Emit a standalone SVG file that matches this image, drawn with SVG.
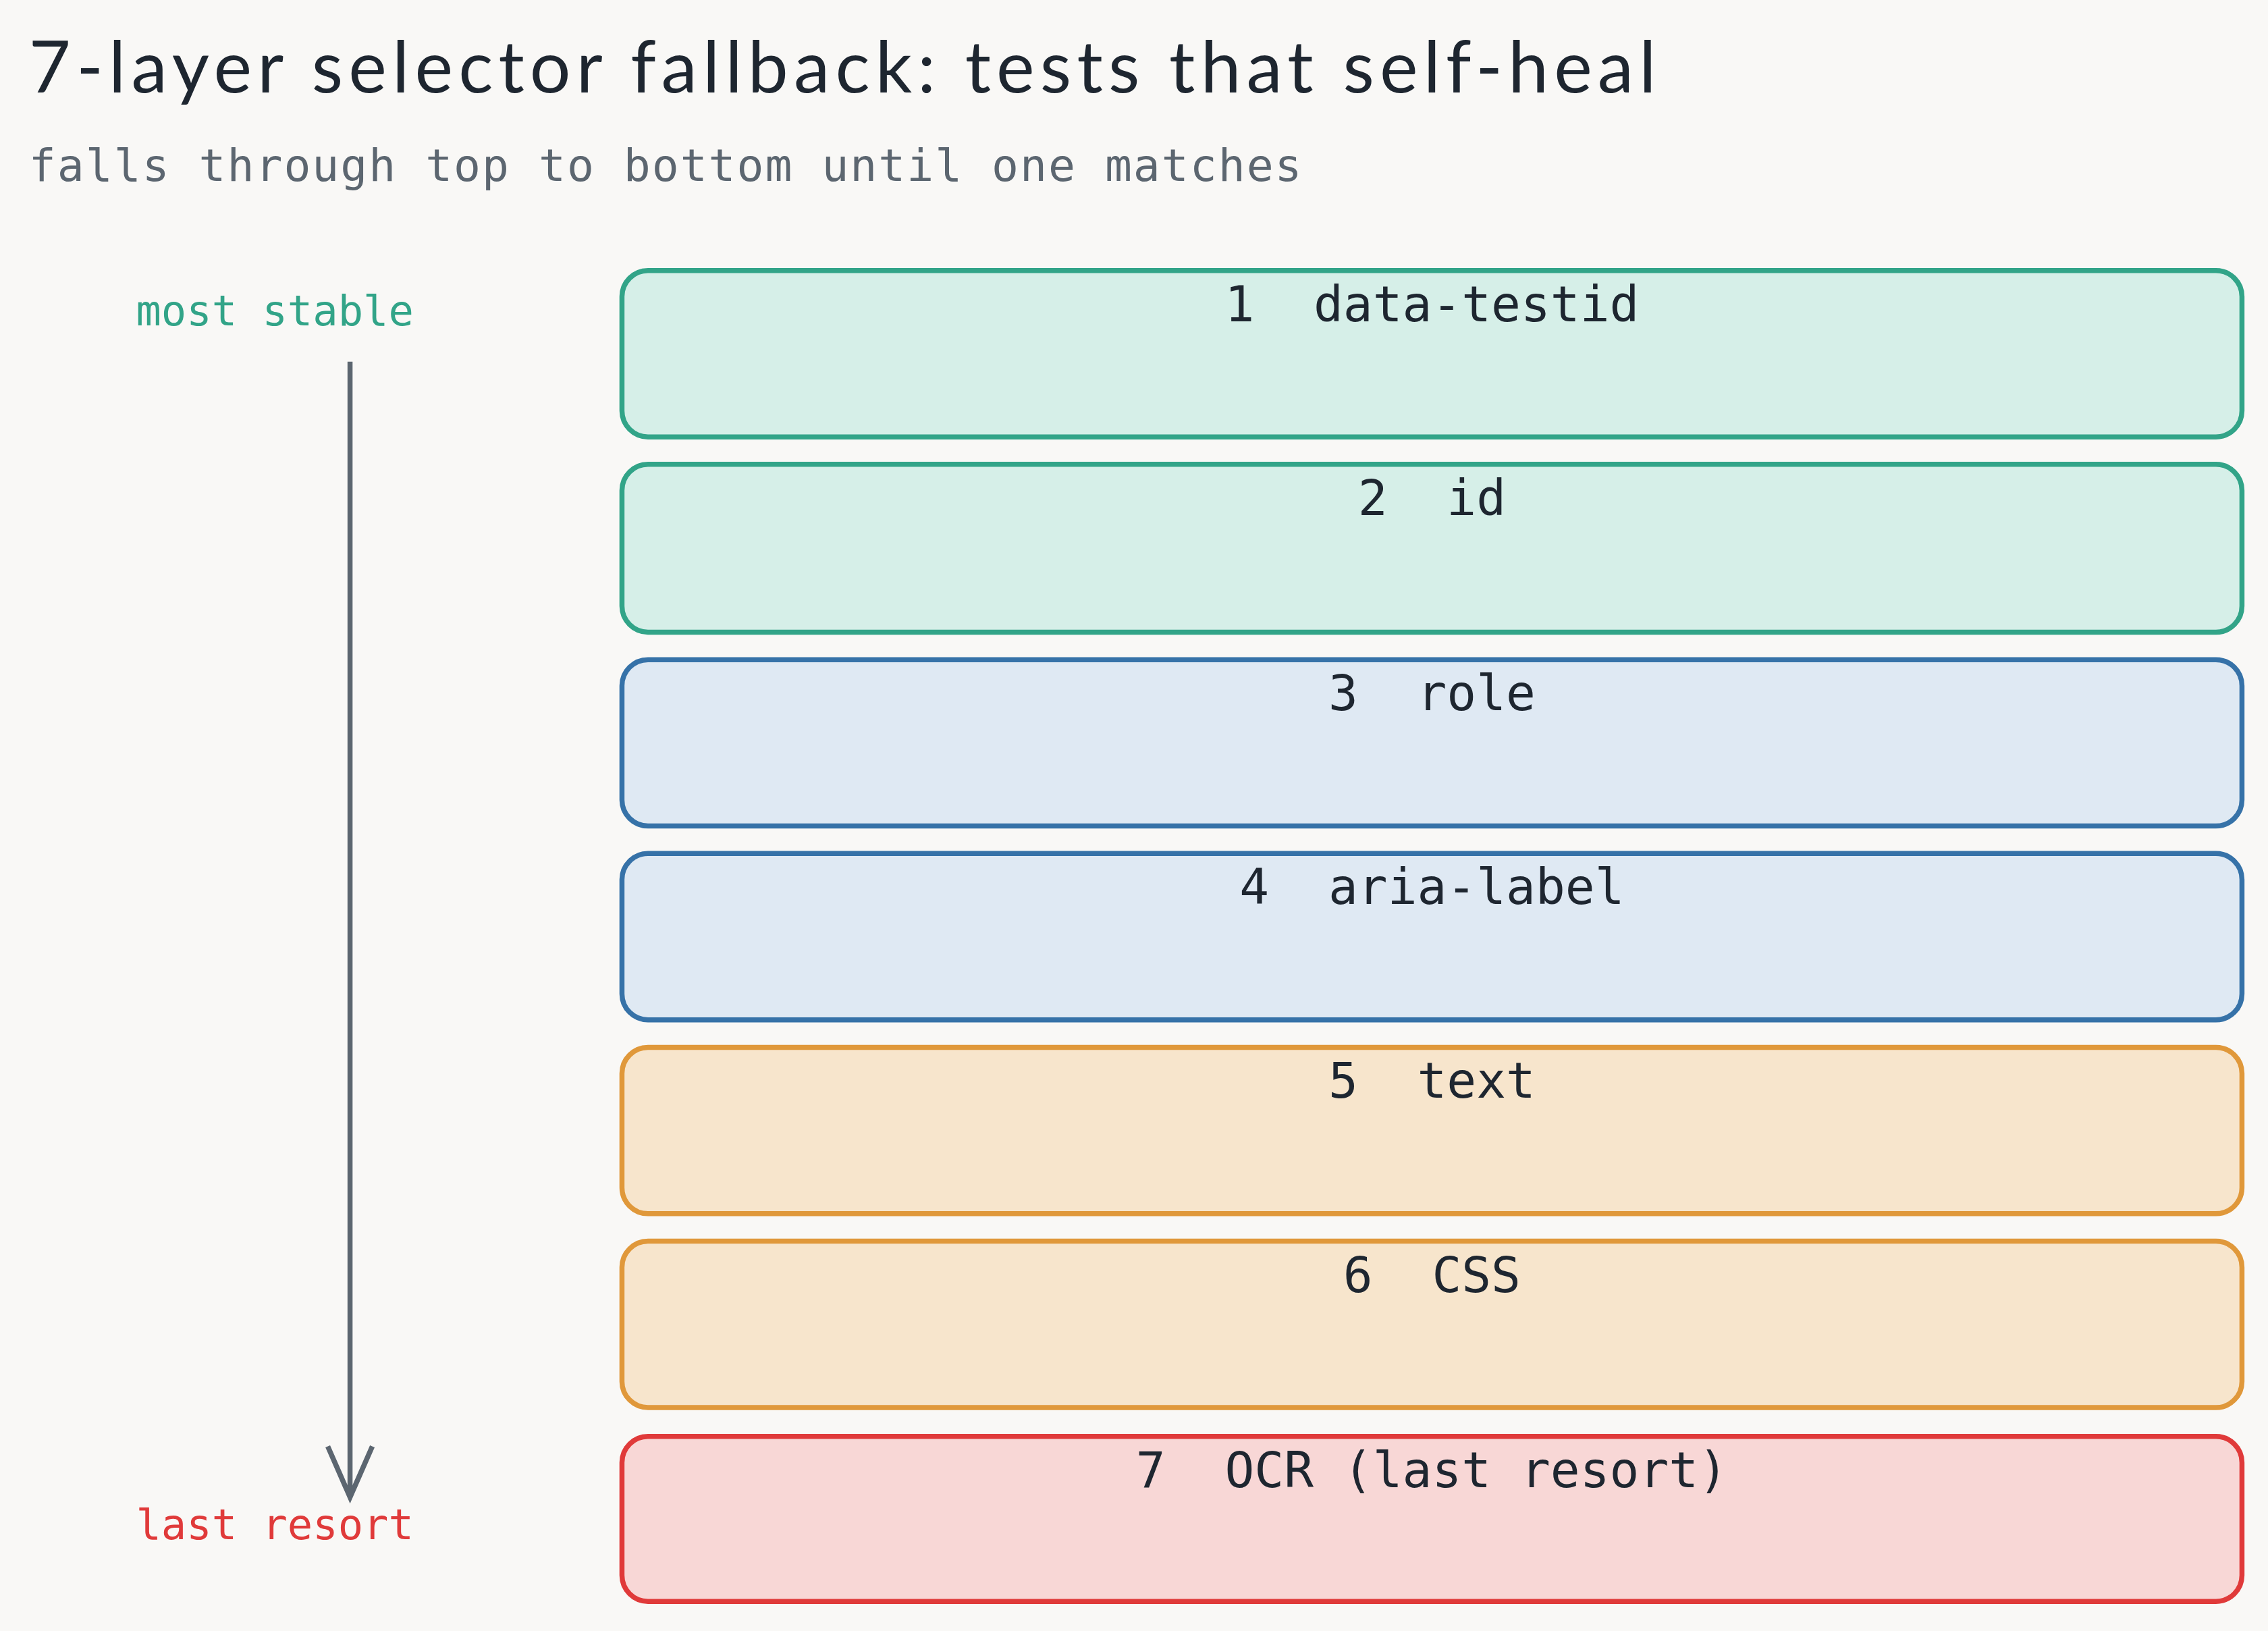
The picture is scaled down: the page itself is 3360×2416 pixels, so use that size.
<svg xmlns="http://www.w3.org/2000/svg" width="3360" height="2416" viewBox="0 0 3360 2416">
<style>
text{white-space:pre}
.box{stroke-width:3.5}
.lbl{font-family:"DejaVu Sans Mono","Liberation Mono",monospace;font-size:34px;fill:#1e2630;text-anchor:middle}
.g{fill:#d6efe8;stroke:#32a488}
.b{fill:#dfe9f3;stroke:#3672a8}
.o{fill:#f7e5cc;stroke:#e0983a}
.r{fill:#f8d7d6;stroke:#e03a3a}
.side{font-family:"DejaVu Sans Mono","Liberation Mono",monospace;font-size:29px;text-anchor:middle}
</style>
<defs><marker id="ah" viewBox="0 0 20 20" refX="18" refY="10" markerWidth="44" markerHeight="44" markerUnits="userSpaceOnUse" orient="auto"><path d="M2 3 L18 10 L2 17" fill="none" stroke="#5c6670" stroke-width="1.6"/></marker></defs>
<rect width="3360" height="2416" fill="#f9f8f6"/>
<g transform="scale(2.142857)">
<text x="20" y="64" font-family="Lato, sans-serif" font-size="50" fill="#1e2630" textLength="1125">7-layer selector fallback: tests that self-heal</text>
<text x="20" y="125" font-family="DejaVu Sans Mono, monospace" font-size="31" fill="#5c6670" textLength="880">falls through top to bottom until one matches</text>
<g id="connectors"><line x1="242" y1="250" x2="242" y2="1035" stroke="#5c6670" stroke-width="3.5" marker-end="url(#ah)"/></g>
<text class="side" x="190" y="225" fill="#32a488">most stable</text>
<text class="side" x="190" y="1064" fill="#e03a3a">last resort</text>
<g id="n1"><rect class="box g" x="430" y="187" width="1120" height="115" rx="18"/><text class="lbl" x="990" y="222">1  data-testid</text></g>
<g id="n2"><rect class="box g" x="430" y="321" width="1120" height="116" rx="18"/><text class="lbl" x="990" y="356">2  id</text></g>
<g id="n3"><rect class="box b" x="430" y="456" width="1120" height="115" rx="18"/><text class="lbl" x="990" y="491">3  role</text></g>
<g id="n4"><rect class="box b" x="430" y="590" width="1120" height="115" rx="18"/><text class="lbl" x="990" y="625">4  aria-label</text></g>
<g id="n5"><rect class="box o" x="430" y="724" width="1120" height="115" rx="18"/><text class="lbl" x="990" y="759">5  text</text></g>
<g id="n6"><rect class="box o" x="430" y="858" width="1120" height="115" rx="18"/><text class="lbl" x="990" y="893">6  CSS</text></g>
<g id="n7"><rect class="box r" x="430" y="993" width="1120" height="114" rx="18"/><text class="lbl" x="990" y="1028">7  OCR (last resort)</text></g>
</g>
</svg>
